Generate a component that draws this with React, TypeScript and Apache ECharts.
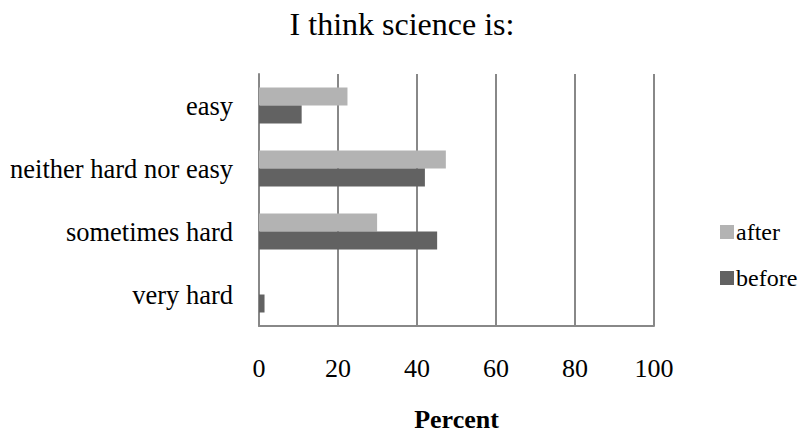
import React, { useEffect, useRef } from "react";
import * as echarts from "echarts";

const categories = ["very hard", "sometimes hard", "neither hard nor easy", "easy"];
const beforeValues = [1.4, 45.1, 42.0, 10.8];
const afterValues = [0, 29.9, 47.3, 22.4];
const seriesNames = ["after", "before"];
const titleText = "I think science is:";
const axisName = "Percent";

const FONT = "Liberation Serif";

export default function App() {
  const ref = useRef<HTMLDivElement>(null);
  useEffect(() => {
    document.body.style.margin = "0";
    const chart = echarts.init(ref.current!, null, { renderer: "svg" });
    chart.setOption({
      animation: false,
      backgroundColor: "#ffffff",
      textStyle: { fontFamily: FONT, color: "#000" },
      title: {
        text: titleText,
        left: "center",
        top: 3,
        textStyle: { fontFamily: FONT, fontSize: 32, fontWeight: "normal", color: "#000" },
      },
      legend: {
        orient: "vertical",
        left: 715,
        top: 215,
        data: seriesNames,
        itemWidth: 14,
        itemHeight: 14,
        itemGap: 22,
        icon: "rect",
        textStyle: { fontFamily: FONT, fontSize: 24, color: "#000", padding: [0, 0, 0, -3] },
      },
      grid: { left: 259, right: 150, top: 74, bottom: 106, containLabel: false, outerBoundsMode: "none" },
      xAxis: {
        type: "value",
        min: 0,
        max: 100,
        interval: 20,
        name: axisName,
        nameLocation: "middle",
        nameGap: 83,
        nameTextStyle: { fontFamily: FONT, fontSize: 26, lineHeight: 20, fontWeight: "bold", color: "#000" },
        axisLine: { show: true, lineStyle: { color: "#888888", width: 2 } },
        axisTick: { show: false },
        axisLabel: { fontFamily: FONT, fontSize: 26, color: "#000", margin: 29 },
        splitLine: { show: true, lineStyle: { color: "#888888", width: 2 } },
      },
      yAxis: {
        type: "category",
        data: categories,
        axisLine: { show: true, lineStyle: { color: "#888888", width: 2 } },
        axisTick: { show: false },
        axisLabel: { fontFamily: FONT, fontSize: 26.5, color: "#000", margin: 26 },
        splitLine: { show: false },
      },
      series: [
        {
          name: "after",
          type: "bar",
          data: afterValues,
          barWidth: 18,
          barGap: "0%",
          itemStyle: { color: "#b3b3b3" },
        },
        {
          name: "before",
          type: "bar",
          data: beforeValues,
          barWidth: 18,
          barGap: "0%",
          itemStyle: { color: "#626262" },
        },
      ],
    });
    return () => chart.dispose();
  }, []);
  return <div ref={ref} style={{ width: 804, height: 432 }} />;
}
